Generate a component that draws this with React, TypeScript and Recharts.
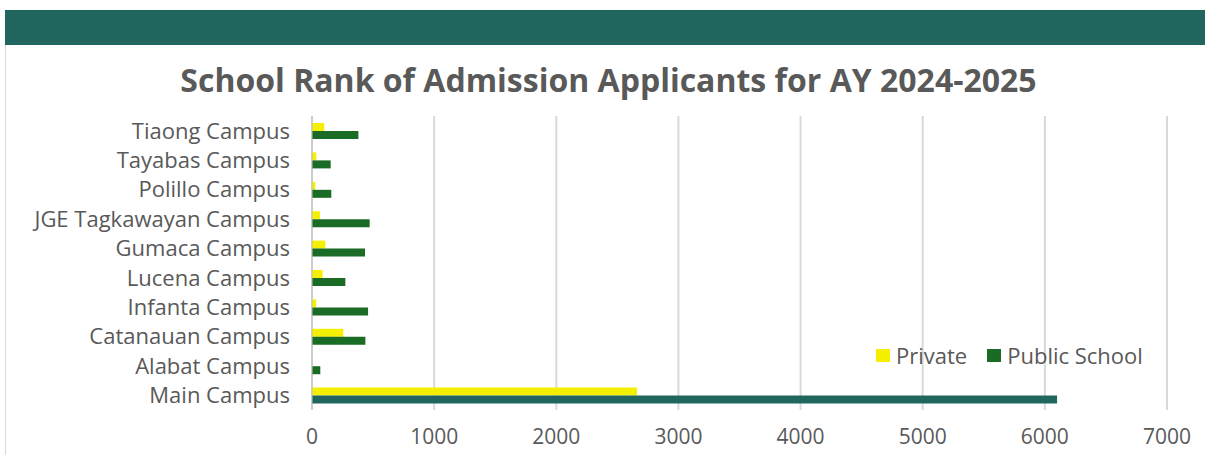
import React from "react";
import { BarChart, Bar, XAxis, YAxis, CartesianGrid, Cell } from "recharts";

const campuses = [
  "Tiaong Campus",
  "Tayabas Campus",
  "Polillo Campus",
  "JGE Tagkawayan Campus",
  "Gumaca Campus",
  "Lucena Campus",
  "Infanta Campus",
  "Catanauan Campus",
  "Alabat Campus",
  "Main Campus",
];
const privateValues = [100, 35, 27, 65, 109, 87, 35, 256, 0, 2661];
const publicValues = [380, 153, 158, 472, 434, 273, 459, 437, 68, 6100];
const xTicks = [0, 1000, 2000, 3000, 4000, 5000, 6000, 7000];
const seriesNames = ["Private", "Public School"];

const title = "School Rank of Admission Applicants for AY 2024-2025";
const FONT = "'Open Sans', sans-serif";
const TEXT = "#595959";
const YELLOW = "#F5EF00";
const GREEN = "#1A6B26";
const TEAL = "#20665F";

const data = campuses.map((name, i) => ({
  name,
  Private: privateValues[i],
  "Public School": publicValues[i],
}));

export default function App() {
  return (
    <div style={{ position: "absolute", left: 0, top: 0, width: 1205, height: 455, background: "#fff", overflow: "hidden" }}>
      <div style={{ position: "absolute", left: 5, top: 10, width: 1200, height: 35, background: TEAL }} />
      <div style={{ position: "absolute", left: 5, top: 45, width: 1, height: 410, background: "#D9D9D9" }} />
      <div
        style={{
          position: "absolute",
          left: 0,
          top: 59,
          width: 1217,
          textAlign: "center",
          fontFamily: FONT,
          fontWeight: 700,
          fontSize: 32,
          color: TEXT,
          lineHeight: "42px",
        }}
      >
        {title}
      </div>
      <div style={{ position: "absolute", left: 0, top: 0 }}>
        <BarChart
          width={1205}
          height={455}
          data={data}
          layout="vertical"
          margin={{ top: 116, right: 38, bottom: 0, left: 0 }}
          barGap={0}
          barSize={8}
        >
          <CartesianGrid horizontal={false} stroke="#D9D9D9" strokeWidth={2} />
          <XAxis
            type="number"
            domain={[0, 7000]}
            ticks={xTicks}
            axisLine={false}
            tickLine={false}
            tickSize={0}
            tickMargin={19}
            height={45}
            interval={0}
            tick={{ fill: TEXT, fontFamily: FONT, fontSize: 21 }}
          />
          <YAxis
            type="category"
            dataKey="name"
            width={312}
            axisLine={{ stroke: "#BFBFBF" }}
            tickLine={false}
            tickSize={0}
            tickMargin={22}
            interval={0}
            tick={{ fill: TEXT, fontFamily: FONT, fontSize: 22 }}
          />
          <Bar dataKey="Private" fill={YELLOW} isAnimationActive={false} />
          <Bar dataKey="Public School" fill={GREEN} isAnimationActive={false}>
            {data.map((d, i) => (
              <Cell key={i} fill={d.name === "Main Campus" ? TEAL : GREEN} />
            ))}
          </Bar>
        </BarChart>
      </div>
      <div
        style={{
          position: "absolute",
          left: 876,
          top: 340,
          display: "flex",
          alignItems: "center",
          fontFamily: FONT,
          fontSize: 22,
          color: TEXT,
          lineHeight: "30px",
          whiteSpace: "nowrap",
        }}
      >
        <span style={{ width: 14, height: 13, background: YELLOW, display: "inline-block", marginRight: 6 }} />
        <span style={{ marginRight: 20 }}>{seriesNames[0]}</span>
        <span style={{ width: 14, height: 13, background: GREEN, display: "inline-block", marginRight: 6 }} />
        <span>{seriesNames[1]}</span>
      </div>
    </div>
  );
}
